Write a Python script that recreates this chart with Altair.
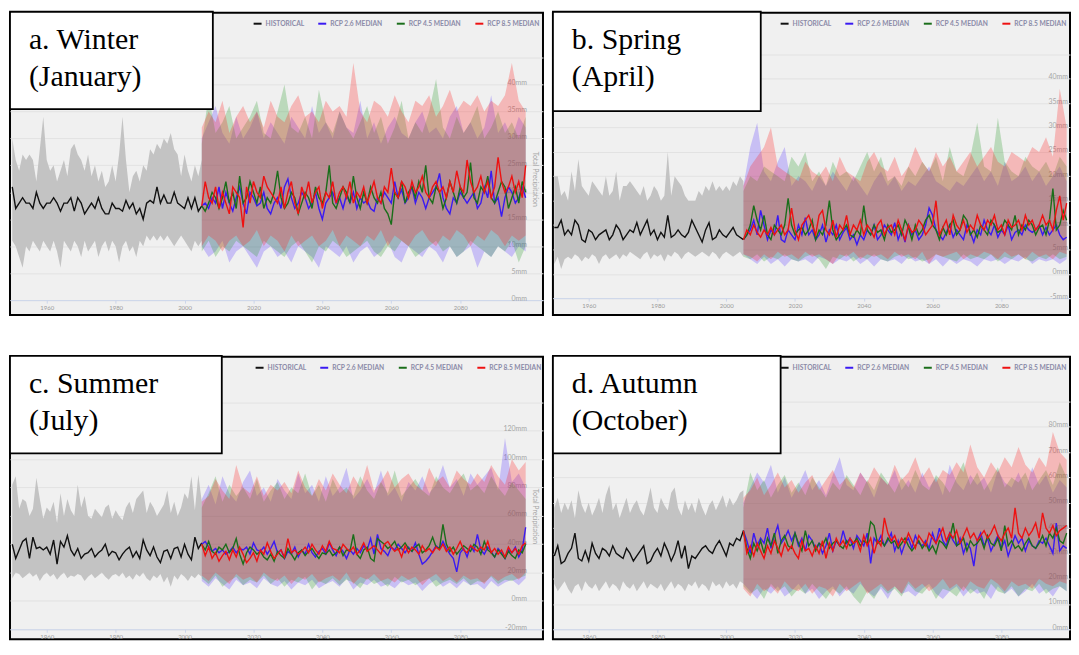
import altair as alt
import pandas as pd

HIST_START = 1950
RCP_START = 2005
BAND_STEP = 2
SERIES = ["HISTORICAL", "RCP 2.6 MEDIAN", "RCP 4.5 MEDIAN", "RCP 8.5 MEDIAN"]
LINE_COLORS = ["#111111", "#3a1af2", "#1a6e1a", "#ee1111"]
BAND_COLORS = ["#5b3bff", "#2e9a2e", "#ff2020"]
HIST_BAND_COLOR = "#c3c3c3"
X_TICKS = [1960, 1980, 2000, 2020, 2040, 2060, 2080]

# ---------------- a. Winter (January) ----------------
A_LABEL = ["a. Winter", "(January)"]
A_Y_TICKS = [0, 5, 10, 15, 20, 25, 30, 35, 40, 45]
A_HIST_MED = [21, 17, 18, 19, 18, 18, 17, 20, 18, 17,
              18, 18, 19, 18, 16.5, 18, 18, 19, 16.5, 19,
              18, 16, 17, 18, 17, 19, 17, 16, 16, 18,
              17, 17, 16.5, 18.5, 17, 18, 16, 17, 15, 18,
              18.5, 18, 21, 18, 19.5, 18, 18, 20, 18, 17.5,
              17, 19, 17, 19, 16.5, 17.5]
A_HIST_HI = [30, 26, 24, 27, 26, 27, 26, 22, 28, 34,
             26, 24, 25, 22, 24, 26, 23, 28, 29, 27,
             26, 24, 27, 23, 25, 22, 24, 21, 22, 25,
             22, 27, 34, 26, 20, 23, 24, 22, 25, 24,
             28, 27, 29, 28, 30, 29, 31, 28, 27, 23,
             27, 24, 22, 25, 23, 26]
A_HIST_LO = [11, 10, 8, 6, 10, 9, 11, 10, 9, 11,
             10, 9, 11, 9, 6, 11, 10, 9, 11, 10,
             8, 11, 9, 10, 11, 8, 10, 11, 9, 11,
             10, 7, 10, 11, 9, 10, 8, 11, 10, 12,
             11, 12, 11, 12, 11, 12, 11, 10, 11, 12,
             11, 10, 9, 11, 10, 11]
A_RCP26_MED = [17.5, 18, 17, 19, 18, 21, 17, 20, 18, 16.5,
               19, 21, 18, 16, 20, 19, 17.5, 18, 20, 17,
               16, 18, 19, 17, 21, 22.5, 19, 17, 18, 20,
               19, 17, 18, 20, 17, 15, 18, 19, 20, 18,
               19, 17, 19.5, 18, 20, 17, 19, 18, 18.5, 17,
               16.5, 19, 18, 20, 19, 18, 22, 19, 20.5, 18,
               19, 21, 18, 20, 19, 17, 19, 20, 21, 23.5,
               19, 17, 16, 19, 18, 20, 19, 18, 19, 20,
               17, 18, 21, 19, 24, 18, 19, 15.5, 19, 21,
               20, 18, 19, 21, 19]
A_RCP45_MED = [17.5, 16.5, 18, 20, 19, 17, 19, 22, 18, 20,
               17, 23, 18, 19, 22, 20, 18, 21, 17, 19,
               18, 20, 24, 19, 17, 18, 20, 19, 16, 18,
               20, 19, 17, 21, 19, 18, 20, 25, 18, 17,
               19, 21, 20, 18, 23, 19, 17, 20, 18, 21,
               19, 18, 20, 17, 16, 14, 20, 19, 22, 18,
               20, 21, 19, 22, 20, 25, 19, 18, 21, 20,
               17, 19, 22, 20, 18, 21, 19, 20, 25.5, 19,
               18, 21, 20, 23, 19, 18, 20, 22, 21, 17,
               19, 21, 18, 22, 20]
A_RCP85_MED = [17.5, 22, 19, 18, 21, 17, 20, 18, 16, 21,
               20, 19, 13.5, 21, 18, 22, 20, 19, 23, 21,
               20, 19, 18, 21, 17, 20, 22, 18, 16, 21,
               19, 22, 18, 20, 21, 17, 20, 19, 22, 18,
               20, 21, 19, 22, 18, 20, 19, 21, 18, 20,
               22, 19, 18, 21, 20, 24.5, 20, 19, 22, 21,
               19, 22, 20, 21, 23, 20, 19, 21, 22, 20,
               21, 19, 22, 20, 24, 21, 20, 26, 22, 20,
               21, 23, 20, 22, 19, 21, 26.5, 22, 20, 21,
               23, 20, 22, 19, 25]
A_RCP26_HI = [30, 33, 36, 31, 29, 34, 30, 32, 35, 30, 33, 31,
              29, 34, 32, 30, 36, 31, 33, 30, 35, 32, 31, 37,
              30, 33, 29, 32, 34, 31, 30, 33, 35, 31, 32, 30,
              34, 36, 31, 33, 30, 32, 38, 31, 33, 30, 34, 32]
A_RCP26_LO = [10, 8, 9, 11, 7, 9, 10, 8, 6, 9, 10, 8,
              9, 7, 10, 9, 8, 6, 10, 9, 8, 10, 7, 9,
              10, 8, 9, 11, 8, 7, 10, 9, 8, 10, 9, 7,
              10, 8, 9, 10, 6, 9, 8, 10, 9, 8, 10, 9]
A_RCP45_HI = [29, 38, 31, 33, 36, 30, 32, 34, 37, 31, 30, 35,
              40, 32, 31, 34, 30, 39, 33, 31, 35, 32, 30, 33,
              36, 31, 34, 29, 32, 37, 30, 33, 31, 35, 41, 32,
              30, 34, 31, 33, 36, 30, 32, 35, 31, 33, 30, 34]
A_RCP45_LO = [9, 11, 8, 10, 9, 11, 10, 9, 8, 11, 10, 9,
              8, 10, 11, 9, 7, 10, 9, 11, 10, 8, 9, 10,
              11, 9, 8, 10, 9, 11, 10, 8, 9, 10, 11, 9,
              10, 8, 9, 11, 10, 9, 8, 10, 9, 11, 7, 10]
A_RCP85_HI = [32, 35, 33, 37, 31, 34, 36, 33, 35, 32, 37, 34,
              33, 36, 38, 34, 35, 33, 37, 35, 36, 34, 44, 35,
              33, 37, 36, 34, 38, 35, 33, 37, 36, 38, 34, 36,
              39, 35, 37, 36, 38, 35, 37, 36, 38, 44, 37, 35]
A_RCP85_LO = [10, 12, 11, 9, 11, 12, 10, 11, 13, 10, 12, 11,
              9, 12, 10, 11, 12, 10, 11, 13, 10, 12, 11, 10,
              12, 11, 13, 10, 12, 11, 10, 12, 13, 11, 10, 12,
              11, 13, 12, 10, 12, 11, 13, 12, 10, 12, 11, 12]

# ---------------- b. Spring (April) ----------------
B_LABEL = ["b. Spring", "(April)"]
B_Y_TICKS = [-5, 0, 5, 10, 15, 20, 25, 30, 35, 40, 45]
B_HIST_MED = [9.5, 9.5, 11, 8, 9, 8, 11, 10, 7, 6.5,
              9, 8.5, 7, 8, 8.5, 9, 7, 8, 10, 9,
              7, 8, 9, 8.5, 10.5, 8, 9.5, 11, 8, 9,
              7, 8.5, 7.5, 12, 7.5, 8, 9, 8, 7.5, 8.5,
              11, 9.5, 8, 6.5, 9, 10.5, 7, 7.5, 9, 8,
              7.5, 8.5, 9.5, 8, 7.5, 7]
B_HIST_HI = [20, 20, 16, 17, 15, 21, 17, 23.5, 18, 17,
             16, 19, 18, 17, 16, 20, 16, 17, 21, 15,
             18, 18, 19, 18, 17, 16, 18, 15, 16, 18,
             17, 15, 16, 25, 16, 20, 19, 18, 16, 15,
             15, 15, 17, 16, 18, 17, 19, 17, 18, 17,
             18, 17, 19, 18, 20, 19]
B_HIST_LO = [2, 3.5, 1, 3, 3.5, 3, 4, 3.5, 2.5, 3.5,
             3, 4, 3.5, 2, 3.5, 4, 3, 3.5, 4, 3,
             4, 3.5, 4.5, 4, 3.5, 3, 4, 4.5, 3, 4,
             3.5, 4, 2.5, 4, 3.5, 4.5, 4, 3, 4, 4.5,
             4, 3.5, 4, 4.5, 4, 3.5, 4.5, 4, 3, 4,
             4.5, 4, 3.5, 4, 4.5, 3.5]
B_RCP26_MED = [7, 8, 9, 11, 8, 13, 10, 7, 9, 8,
               12, 7, 6.5, 9, 8, 7, 10, 8, 11.5, 8,
               9, 7, 8, 10, 6.5, 9, 8, 10, 7, 8.5,
               9.5, 7, 8, 6, 8, 7, 9, 8, 10, 7,
               8, 10, 9, 8, 10.5, 7, 9, 6.5, 10, 8,
               9, 7, 8, 10, 13.5, 12, 9, 8, 7, 8.5,
               10, 7.5, 9, 8, 7, 10, 8.5, 6.5, 9, 8,
               11, 9, 8, 10, 7.5, 9, 8, 10, 7, 8.5,
               9, 8, 10, 9, 8.5, 9, 10, 8, 9.5, 8,
               9, 10, 8, 7, 7.5]
B_RCP45_MED = [7, 8, 10, 14, 11, 9, 12, 8, 7, 10,
               9, 8, 10, 15.5, 10, 8, 9, 9.5, 8, 9,
               11, 7, 9, 8, 10, 15, 9, 7, 8, 9,
               10, 8, 7.5, 9, 8, 14, 9, 8, 10, 8.5,
               9, 7, 10, 8.5, 9, 10, 8, 11, 9.5, 7,
               10, 8, 9, 11, 12, 10, 9, 7, 9.5, 8,
               10, 11, 8, 9, 12, 11, 8, 9, 7.5, 10,
               9, 8, 11, 10, 8.5, 9, 11, 10, 9, 12,
               8, 10, 9, 11, 10, 8, 9.5, 10, 8, 11,
               17.5, 9, 10, 13, 11]
B_RCP85_MED = [7, 9, 8, 10, 8.5, 7.5, 9, 8, 9.5, 8,
               9, 10, 8, 9, 13.5, 9, 7, 10, 11, 12,
               10, 8, 12, 13, 9, 8, 11, 7.5, 10, 9,
               12, 8, 10, 9, 11, 8, 10, 9, 7.5, 10,
               11, 8, 9.5, 10, 8, 11, 9, 7, 10, 8.5,
               9, 11, 10, 8, 9, 10, 15, 8, 9.5, 11,
               8, 12, 10, 9, 11, 8.5, 10, 9, 12, 10,
               9, 11, 10, 12, 9, 10, 8, 11, 9.5, 10,
               11, 9, 12, 10, 11, 9, 10, 12, 10, 11,
               9, 13, 16, 11, 14.5]
B_RCP26_HI = [18, 26, 31, 21, 19, 23, 26, 18, 20, 19, 17, 20,
              18, 21, 19, 17, 20, 18, 16, 19, 21, 18, 20, 17,
              19, 18, 20, 22, 19, 18, 17, 19, 18, 20, 22, 19,
              21, 18, 23, 19, 20, 22, 19, 21, 18, 20, 22, 19]
B_RCP26_LO = [4, 3, 2, 3.5, 2, 3, 1.5, 3, 2.5, 3, 2, 3.5,
              3, 2, 3, 2.5, 3.5, 2, 3, 1.5, 3, 2.5, 3, 2,
              3.5, 2.5, 3, 2, 3, 1.5, 3, 2, 3, 2.5, 1.5, 3,
              2.5, 3, 2, 3, 2.5, 3.5, 2, 3, 2.5, 3, 2, 3]
B_RCP45_HI = [17, 20, 19, 22, 21, 20, 19, 24, 22, 25, 19, 21,
              18, 23, 20, 21, 19, 22, 25, 21, 24, 19, 20, 18,
              22, 20, 23, 21, 24, 19, 26, 21, 20, 24, 31, 22,
              21, 32, 23, 21, 20, 24, 22, 21, 23, 20, 24, 22]
B_RCP45_LO = [3.5, 3, 4, 2.5, 3.5, 3, 4, 3, 2.5, 3.5, 4, 3,
              1, 3.5, 3, 4, 2.5, 3.5, 3, 4, 3, 2.5, 3.5, 4,
              3, 3.5, 2.5, 3, 4, 3.5, 3, 2.5, 4, 3, 3.5, 3,
              4, 2.5, 3.5, 3, 4, 3, 2.5, 3.5, 3, 4, 3, 3.5]
B_RCP85_HI = [18, 22, 24, 26, 30, 22, 21, 20, 19, 23, 21, 20,
              22, 19, 24, 21, 20, 19, 23, 25, 22, 21, 24, 20,
              22, 26, 23, 21, 25, 22, 24, 21, 23, 25, 22, 24,
              26, 23, 22, 25, 24, 23, 26, 25, 28, 24, 38, 30]
B_RCP85_LO = [4, 3.5, 2.5, 4, 3, 4.5, 3.5, 4, 3, 4.5, 3.5, 4,
              3, 2, 4, 3.5, 4.5, 3, 4, 3.5, 4, 3, 4.5, 3.5,
              4, 3, 4.5, 2, 4, 3.5, 4, 4.5, 3, 4, 3.5, 4.5,
              4, 3, 4.5, 3.5, 4, 3, 4.5, 3.5, 4, 3, 4.5, 4]

# ---------------- c. Summer (July) ----------------
C_LABEL = ["c. Summer", "(July)"]
C_Y_TICKS = [-20, 0, 20, 40, 60, 80, 100, 120, 140]
C_HIST_MED = [40, 30, 36, 42, 44, 30, 45, 37, 38, 36,
              38, 33, 43, 26, 42, 38, 46, 36, 32, 37,
              30, 33, 34, 37, 31, 34, 36, 40, 32, 35,
              34, 29, 33, 36, 38, 31, 35, 30, 43, 36,
              32, 38, 31, 27, 35, 36, 30, 37, 38, 31,
              40, 33, 29, 45, 37, 41]
C_HIST_HI = [82, 88, 65, 72, 70, 60, 65, 87, 72, 58,
             66, 63, 70, 55, 76, 60, 72, 64, 60, 82,
             66, 74, 60, 58, 65, 62, 59, 66, 68, 58,
             64, 60, 57, 66, 70, 62, 72, 75, 78, 62,
             70, 66, 60, 64, 68, 78, 62, 70, 60, 66,
             76, 72, 88, 64, 89, 70]
C_HIST_LO = [16, 20, 19, 16, 18, 20, 17, 19, 14, 18,
             20, 17, 19, 15, 18, 20, 16, 18, 17, 19,
             18, 14, 17, 19, 16, 18, 20, 17, 15, 18,
             19, 17, 20, 16, 18, 15, 19, 17, 20, 16,
             14, 18, 16, 19, 13, 17, 10, 18, 15, 19,
             17, 14, 18, 16, 19, 17]
C_RCP26_MED = [40, 42, 38, 35, 37, 34, 36, 33, 35, 38,
               34, 37, 36, 38, 33, 41, 36, 35, 38, 33,
               37, 42, 34, 36, 30, 35, 33, 38, 31, 36,
               33, 40, 34, 31, 35, 37, 33, 41, 36, 32,
               38, 35, 30, 36, 33, 37, 34, 39, 36, 44,
               33, 47, 37, 35, 32, 38, 36, 40, 37, 34,
               38, 35, 41, 33, 26, 28, 31, 35, 39, 37,
               42, 37, 33, 30, 20.5, 34, 37, 31, 39, 35,
               47, 36, 33, 38, 35, 31, 37, 34, 30, 36,
               34, 38, 31, 36, 52]
C_RCP45_MED = [40, 36, 42, 35, 33, 38, 36, 40, 34, 37,
               44, 33, 26, 34, 38, 36, 33, 35, 31, 29,
               33, 28, 35, 32, 30, 37, 33, 29, 34, 36,
               32, 35, 37, 33, 30, 34, 33, 36, 32, 34,
               38, 32, 36, 35, 47, 33, 30, 36, 38, 30,
               28, 44, 42, 40, 37, 39, 42, 36, 38, 41,
               37, 35, 38, 40, 34, 36, 39, 45, 38, 37,
               54, 40, 35, 38, 33, 36, 39, 37, 35, 40,
               38, 33, 42, 36, 34, 31, 36, 33, 30, 35,
               32, 30, 36, 34, 40]
C_RCP85_MED = [40, 32, 38, 30, 34, 28, 32, 35, 29, 36,
               31, 38, 33, 27, 30, 34, 28, 36, 33, 41,
               35, 30, 33, 36, 31, 44, 34, 36, 33, 35,
               38, 34, 40, 36, 33, 39, 35, 42, 37, 36,
               34, 40, 37, 35, 38, 33, 36, 41, 35, 37,
               39, 36, 33, 40, 42, 38, 35, 37, 31, 39,
               34, 38, 36, 33, 39, 35, 37, 34, 38, 36,
               40, 35, 38, 33, 37, 42, 36, 34, 39, 37,
               35, 38, 36, 42, 34, 37, 33, 36, 31, 38,
               34, 37, 33, 39, 41]
C_RCP26_HI = [72, 82, 68, 88, 76, 70, 84, 92, 74, 80, 70, 86,
              78, 72, 90, 76, 82, 70, 88, 74, 80, 94, 72, 78,
              86, 76, 92, 74, 80, 70, 84, 78, 88, 76, 82, 96,
              80, 86, 74, 90, 82, 88, 94, 78, 115, 84, 90, 80]
C_RCP26_LO = [14, 10, 16, 12, 8, 15, 11, 13, 9, 16, 12, 10,
              14, 8, 13, 11, 15, 9, 12, 14, 10, 16, 8, 13,
              11, 15, 10, 12, 9, 14, 11, 13, 7, 12, 15, 10,
              13, 9, 14, 11, 12, 8, 14, 10, 13, 15, 11, 16]
C_RCP45_HI = [66, 76, 88, 70, 82, 74, 80, 72, 86, 70, 78, 84,
              72, 80, 76, 90, 74, 82, 70, 86, 76, 80, 74, 88,
              78, 72, 84, 76, 92, 74, 80, 86, 78, 74, 88, 80,
              76, 84, 90, 78, 82, 76, 88, 80, 74, 84, 78, 72]
C_RCP45_LO = [16, 12, 18, 10, 14, 17, 11, 15, 13, 18, 12, 16,
              10, 15, 13, 17, 8, 14, 12, 16, 11, 15, 13, 9,
              16, 12, 14, 10, 17, 13, 15, 11, 14, 16, 10, 13,
              15, 12, 16, 11, 14, 13, 17, 12, 15, 14, 16, 18]
C_RCP85_HI = [70, 74, 86, 78, 72, 96, 80, 76, 88, 74, 82, 78,
              84, 76, 92, 80, 74, 86, 78, 90, 82, 76, 88, 80,
              96, 78, 84, 92, 80, 86, 90, 82, 78, 94, 84, 88,
              80, 92, 86, 82, 90, 84, 96, 88, 82, 100, 92, 98]
C_RCP85_LO = [18, 14, 20, 16, 12, 19, 15, 17, 13, 20, 16, 14,
              18, 12, 17, 15, 19, 13, 16, 18, 14, 20, 12, 17,
              15, 19, 14, 16, 13, 18, 15, 17, 11, 16, 19, 14,
              17, 13, 18, 15, 16, 12, 18, 14, 17, 19, 15, 20]

# ---------------- d. Autumn (October) ----------------
D_LABEL = ["d. Autumn", "(October)"]
D_Y_TICKS = [0, 10, 20, 30, 40, 50, 60, 70, 80, 90]
D_HIST_MED = [29, 33, 26, 27, 30, 32, 38, 28, 27, 31,
              27, 34, 30, 28, 32, 31, 29, 33, 30, 29,
              28, 32, 30, 27, 29, 31, 33, 26, 27, 30,
              32, 29, 34, 31, 27, 30, 35, 28, 33, 24,
              29, 28, 30, 32, 33, 31, 30, 33, 35, 32,
              29, 34, 33, 36, 35, 39]
D_HIST_HI = [48, 52, 46, 50, 47, 51, 44, 55, 49, 46,
             50, 45, 48, 52, 46, 53, 57, 47, 50, 44,
             48, 52, 46, 49, 51, 47, 45, 50, 56, 48,
             46, 52, 49, 47, 54, 56, 48, 45, 51, 47,
             50, 46, 52, 48, 45, 49, 51, 47, 50, 53,
             48, 52, 49, 51, 54, 55]
D_HIST_LO = [18, 15, 17, 19, 16, 14, 17, 18, 15, 19,
             17, 16, 18, 15, 17, 19, 16, 18, 17, 15,
             19, 17, 16, 18, 15, 17, 19, 16, 18, 17,
             16, 18, 15, 17, 19, 16, 18, 17, 15, 18,
             17, 19, 16, 18, 17, 15, 19, 17, 18, 16,
             19, 17, 18, 16, 19, 18]
D_RCP26_MED = [39, 35, 30, 38, 33, 36, 34, 40, 32, 37,
               41, 34, 36, 39, 35, 38, 33, 36, 31, 37,
               35, 32, 34, 30, 33, 38, 31, 35, 33, 39,
               34, 36, 32, 37, 35, 33, 38, 26, 36, 34,
               37, 33, 35, 38, 31, 35, 30, 34, 36, 32,
               37, 34, 33, 35, 32, 38, 34, 40, 35, 33,
               38, 35, 33, 36, 30, 34, 32, 25, 35, 38,
               33, 36, 31, 34, 37, 32, 35, 29, 33, 37,
               34, 36, 31, 35, 33, 32, 35, 34, 36, 33,
               30, 42, 31, 33, 32]
D_RCP45_MED = [39, 32, 28, 34, 31, 35, 30, 36, 33, 38,
               30, 35, 37, 33, 32, 38, 34, 31, 39, 33,
               35, 31, 34, 33, 36, 32, 34, 35, 33, 32,
               35, 33, 34, 36, 33, 35, 34, 42.5, 41, 34,
               35, 33, 36, 34, 35, 32, 34, 36, 33, 31,
               33, 35, 32, 34, 31, 33, 30, 35, 34, 32,
               36, 42, 33, 34, 36, 31, 35, 33, 34, 36,
               32, 37, 34, 33, 36, 31, 41, 33, 35, 32,
               33, 31, 34, 36, 33, 32, 34, 37, 33, 38,
               36, 40, 35, 34, 38]
D_RCP85_MED = [39, 30, 33, 29, 34, 31, 28, 33, 30, 35,
               32, 29, 34, 31, 33, 30, 28, 35, 31, 32,
               29, 33, 30, 35, 28, 34, 31, 36, 33, 35,
               32, 36, 34, 35, 31, 37, 33, 36, 30, 35,
               33, 44, 38, 35, 37, 33, 36, 34, 38, 35,
               32, 37, 35, 33, 38, 36, 34, 37, 40, 35,
               38, 36, 39, 34, 37, 40, 36, 38, 35, 37,
               39, 36, 38, 41, 37, 35, 38, 40, 36, 48,
               38, 36, 40, 37, 39, 42, 36, 46, 40, 38,
               41, 37, 39, 40, 41]
D_RCP26_HI = [50, 56, 62, 58, 65, 54, 60, 52, 57, 63, 55, 59,
              53, 61, 68, 57, 55, 62, 58, 52, 60, 57, 63, 55,
              59, 54, 62, 56, 60, 53, 65, 58, 55, 61, 57, 60,
              54, 63, 58, 56, 62, 55, 64, 57, 61, 54, 59, 56]
D_RCP26_LO = [18, 15, 12, 16, 14, 17, 13, 15, 18, 14, 16, 12,
              15, 17, 13, 16, 14, 18, 15, 13, 16, 12, 17, 14,
              15, 13, 16, 18, 14, 12, 15, 17, 13, 16, 14, 15,
              12, 17, 14, 16, 13, 15, 18, 14, 16, 13, 17, 15]
D_RCP45_HI = [48, 62, 55, 59, 52, 57, 61, 54, 58, 53, 60, 56,
              52, 58, 55, 61, 57, 53, 59, 55, 62, 58, 54, 60,
              56, 63, 57, 55, 61, 58, 54, 60, 66, 57, 62, 55,
              59, 64, 56, 60, 58, 62, 55, 59, 63, 57, 66, 60]
D_RCP45_LO = [17, 14, 16, 12, 18, 15, 17, 13, 16, 14, 18, 15,
              12, 16, 14, 17, 13, 10, 15, 12, 17, 14, 16, 13,
              18, 15, 14, 17, 12, 16, 15, 13, 17, 14, 16, 12,
              18, 15, 14, 17, 13, 16, 15, 18, 14, 16, 17, 15]
D_RCP85_HI = [52, 55, 60, 53, 57, 62, 56, 59, 54, 58, 61, 55,
              59, 63, 57, 60, 56, 62, 58, 64, 60, 57, 65, 59,
              62, 68, 60, 64, 58, 63, 61, 66, 62, 73, 64, 60,
              66, 62, 68, 64, 72, 65, 62, 68, 64, 78, 70, 67]
D_RCP85_LO = [16, 13, 18, 15, 17, 14, 19, 16, 15, 18, 14, 17,
              16, 13, 18, 15, 17, 19, 14, 16, 18, 15, 17, 14,
              19, 16, 18, 15, 17, 20, 16, 18, 15, 19, 17, 16,
              20, 18, 15, 19, 17, 18, 16, 20, 18, 17, 19, 18]


def build_panel(label, hist_med, hist_lo, hist_hi, meds, los, his,
                width, height, x_domain, y_domain, y_ticks, x_offset,
                label_pad, title_x, title_y, legend_x, legend_y,
                box_w, box_h, show_title):
    top_val = max(y_ticks)
    x_enc = alt.X(
        "year:Q",
        scale=alt.Scale(domain=x_domain, nice=False, zero=False),
        axis=alt.Axis(values=X_TICKS, format="d", title=None, grid=False,
                      offset=x_offset, domain=True, domainColor="#ccd6eb",
                      domainWidth=1, ticks=True, tickColor="#ccd6eb",
                      tickSize=3, labelPadding=1, labelFontSize=6,
                      labelColor="#9a9a9a", labelFont="Lato",
                      labelFlush=False, labelOverlap=False),
    )
    y_axis_kw = dict(
        orient="right", values=y_ticks,
        labelExpr=f"datum.value >= {top_val} ? '' : datum.value + 'mm'",
        grid=True, gridColor="#e2e2e2", gridWidth=1, domain=False,
        ticks=False, tickSize=0, labelAlign="right",
        labelBaseline="alphabetic", labelPadding=label_pad,
        labelFontSize=7, labelColor="#a6a6a6", labelFont="Lato",
        labelOverlap=False, labelFlush=False,
    )
    if show_title:
        y_axis_kw.update(title="Total Precipitation", titleX=title_x,
                         titleY=title_y, titleAngle=90, titleAlign="center",
                         titleBaseline="middle", titleFontSize=7,
                         titleFontWeight="normal", titleColor="#a6a6a6",
                         titleFont="Lato")
    else:
        y_axis_kw.update(title="")
    y_enc = alt.Y("y:Q", scale=alt.Scale(domain=y_domain, nice=False, zero=False),
                  axis=alt.Axis(**y_axis_kw))

    hist_df = pd.DataFrame({
        "year": [HIST_START + i for i in range(len(hist_lo))],
        "y": hist_lo, "y2": hist_hi,
    })
    layers = [alt.Chart(hist_df).mark_area(color=HIST_BAND_COLOR, opacity=1)
              .encode(x=x_enc, y=y_enc, y2="y2:Q")]
    for lo, hi, col in zip(los, his, BAND_COLORS):
        bdf = pd.DataFrame({
            "year": [RCP_START + BAND_STEP * i for i in range(len(lo))],
            "y": lo, "y2": hi,
        })
        layers.append(alt.Chart(bdf).mark_area(color=col, opacity=0.27)
                      .encode(x=x_enc, y=y_enc, y2="y2:Q"))

    rows = [(HIST_START + i, SERIES[0], v) for i, v in enumerate(hist_med)]
    for s, med in zip(SERIES[1:], meds):
        rows += [(RCP_START + i, s, v) for i, v in enumerate(med)]
    line_df = pd.DataFrame(rows, columns=["year", "series", "y"])
    layers.append(
        alt.Chart(line_df).mark_line(strokeWidth=1.4).encode(
            x=x_enc, y=y_enc,
            color=alt.Color(
                "series:N",
                scale=alt.Scale(domain=SERIES, range=LINE_COLORS),
                legend=alt.Legend(
                    orient="none", legendX=legend_x, legendY=legend_y,
                    direction="horizontal", title=None, symbolType="stroke",
                    symbolStrokeWidth=2, symbolSize=64, labelFontSize=6.7,
                    labelFont="Lato", labelFontWeight="bold",
                    labelColor="#8b8ba8", columnPadding=10, labelOffset=3,
                    padding=0, labelLimit=200,
                ),
            ),
        )
    )

    one = pd.DataFrame({"k": [0]})
    layers.append(
        alt.Chart(one).mark_rect(fill="white", stroke="black", strokeWidth=1.8)
        .encode(x=alt.value(0), x2=alt.value(box_w), y=alt.value(-1), y2=alt.value(box_h))
    )
    for i, line in enumerate(label):
        layers.append(
            alt.Chart(one).mark_text(align="left", baseline="alphabetic",
                                     font="Liberation Serif", fontSize=30,
                                     color="black")
            .encode(x=alt.value(19), y=alt.value(36 + 38 * i), text=alt.value(line))
        )
    return alt.layer(*layers).properties(width=width, height=height)


pa = build_panel(A_LABEL, A_HIST_MED, A_HIST_LO, A_HIST_HI,
                 [A_RCP26_MED, A_RCP45_MED, A_RCP85_MED],
                 [A_RCP26_LO, A_RCP45_LO, A_RCP85_LO],
                 [A_RCP26_HI, A_RCP45_HI, A_RCP85_HI],
                 536, 304, [1949.34, 2104.03], [-2.766, 53.30], A_Y_TICKS,
                 -15, -16.5, -9, 167, 244, 6, 204, 97, True)
pb = build_panel(B_LABEL, B_HIST_MED, B_HIST_LO, B_HIST_HI,
                 [B_RCP26_MED, B_RCP45_MED, B_RCP85_MED],
                 [B_RCP26_LO, B_RCP45_LO, B_RCP85_LO],
                 [B_RCP26_HI, B_RCP45_HI, B_RCP85_HI],
                 520, 304, [1949.6, 2099.98], [-8.469, 53.57], B_Y_TICKS,
                 -17, -2.5, 0, 164.5, 228, 6, 209, 99, False)
pc = build_panel(C_LABEL, C_HIST_MED, C_HIST_LO, C_HIST_HI,
                 [C_RCP26_MED, C_RCP45_MED, C_RCP85_MED],
                 [C_RCP26_LO, C_RCP45_LO, C_RCP85_LO],
                 [C_RCP26_HI, C_RCP45_HI, C_RCP85_HI],
                 536, 284, [1949.34, 2104.03], [-27.02, 172.28], C_Y_TICKS,
                 -10, -16.5, -9, 160, 246, 6, 213, 97, True)
pd_ = build_panel(D_LABEL, D_HIST_MED, D_HIST_LO, D_HIST_HI,
                  [D_RCP26_MED, D_RCP45_MED, D_RCP85_MED],
                  [D_RCP26_LO, D_RCP45_LO, D_RCP85_LO],
                  [D_RCP26_HI, D_RCP45_HI, D_RCP85_HI],
                  520, 284, [1949.6, 2099.98], [-3.93, 107.69], D_Y_TICKS,
                  -10, -2.5, 0, 159.5, 228, 6, 229, 97, False)

top = (alt.hconcat(pa, pb, spacing=6)
       .resolve_scale(color="independent").resolve_legend(color="independent"))
bottom = (alt.hconcat(pc, pd_, spacing=6)
          .resolve_scale(color="independent").resolve_legend(color="independent"))
chart = (alt.vconcat(top, bottom, spacing=38)
         .resolve_scale(color="independent").resolve_legend(color="independent")
         .properties(padding={"left": 0, "top": 0, "right": 0, "bottom": 0},
                     background="white")
         .configure_view(fill="#f0f0f0", stroke="#000000", strokeWidth=2))

chart.save("out.html", embed_options={"renderer": "svg", "actions": False})
